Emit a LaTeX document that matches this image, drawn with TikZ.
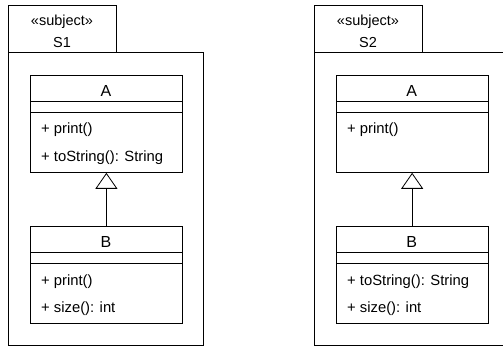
\documentclass[tikz,border=0pt]{standalone}
\usepackage{fontspec}
\setmainfont{Liberation Sans}
\usetikzlibrary{arrows.meta}
\tikzset{
  box/.style={draw, line width=0.8pt, minimum width=#1, anchor=north west, inner sep=0pt},
  txt/.style={inner sep=0pt, font=\fontsize{14.5}{16}\selectfont},
  cname/.style={inner sep=0pt, font=\fontsize{16}{18}\selectfont, anchor=base},
  member/.style={inner sep=0pt, font=\fontsize{14.8}{16}\selectfont, anchor=base west},
  ln/.style={line width=0.8pt},
  inherit/.style={line width=0.8pt, -{Triangle[open, width=22pt, length=16pt, fill=white]}}
}
\begin{document}
\begin{tikzpicture}[x=1pt, y=-1pt]
\useasboundingbox (0,0) rectangle (503,347);
% ---- left subject S1
\node[box=108pt, minimum height=47pt] (t1) at (8,5) {};
\node[txt, anchor=base] (st1) at (62,25.5) {«subject»};
\node[txt, anchor=base] (n1) at (62,48) {S1};
\draw[ln] (8,52) -- (8,345) -- (203,345) -- (203,52) -- (116,52);
% class A (left)
\node[box=152pt, minimum height=97pt] (A1) at (30,75) {};
\node[cname] (A1n) at (106,96.5) {A};
\draw[ln] (30,101) -- (182,101);
\draw[ln] (30,112) -- (182,112);
\node[member] (A1m1) at (41,134) {+ print()};
\node[member] (A1m2) at (41,162) {+ toString(): String};
% class B (left)
\node[box=152pt, minimum height=97pt] (B1) at (30,226) {};
\node[cname] (B1n) at (106,247.5) {B};
\draw[ln] (30,252.5) -- (182,252.5);
\draw[ln] (30,263.5) -- (182,263.5);
\node[member] (B1m1) at (41,285.5) {+ print()};
\node[member] (B1m2) at (41,312) {+ size(): int};
\draw[inherit] (B1.north) -- (A1.south);
% ---- right subject S2
\node[box=108pt, minimum height=47pt] (t2) at (314,5) {};
\node[txt, anchor=base] (st2) at (368,25.5) {«subject»};
\node[txt, anchor=base] (n2) at (368,48) {S2};
\draw[ln] (422,52) -- (504,52);
\draw[ln] (314,52) -- (314,345) -- (504,345);
% class A (right)
\node[box=151.5pt, minimum height=97pt] (A2) at (336,75) {};
\node[cname] (A2n) at (411.75,96.5) {A};
\draw[ln] (336,101) -- (487.5,101);
\draw[ln] (336,112) -- (487.5,112);
\node[member] (A2m1) at (347,134) {+ print()};
% class B (right)
\node[box=151.5pt, minimum height=97pt] (B2) at (336,226) {};
\node[cname] (B2n) at (411.75,247.5) {B};
\draw[ln] (336,252.5) -- (487.5,252.5);
\draw[ln] (336,263.5) -- (487.5,263.5);
\node[member] (B2m1) at (347,286) {+ toString(): String};
\node[member] (B2m2) at (347,312) {+ size(): int};
\draw[inherit] (B2.north) -- (A2.south);
\end{tikzpicture}
\end{document}
